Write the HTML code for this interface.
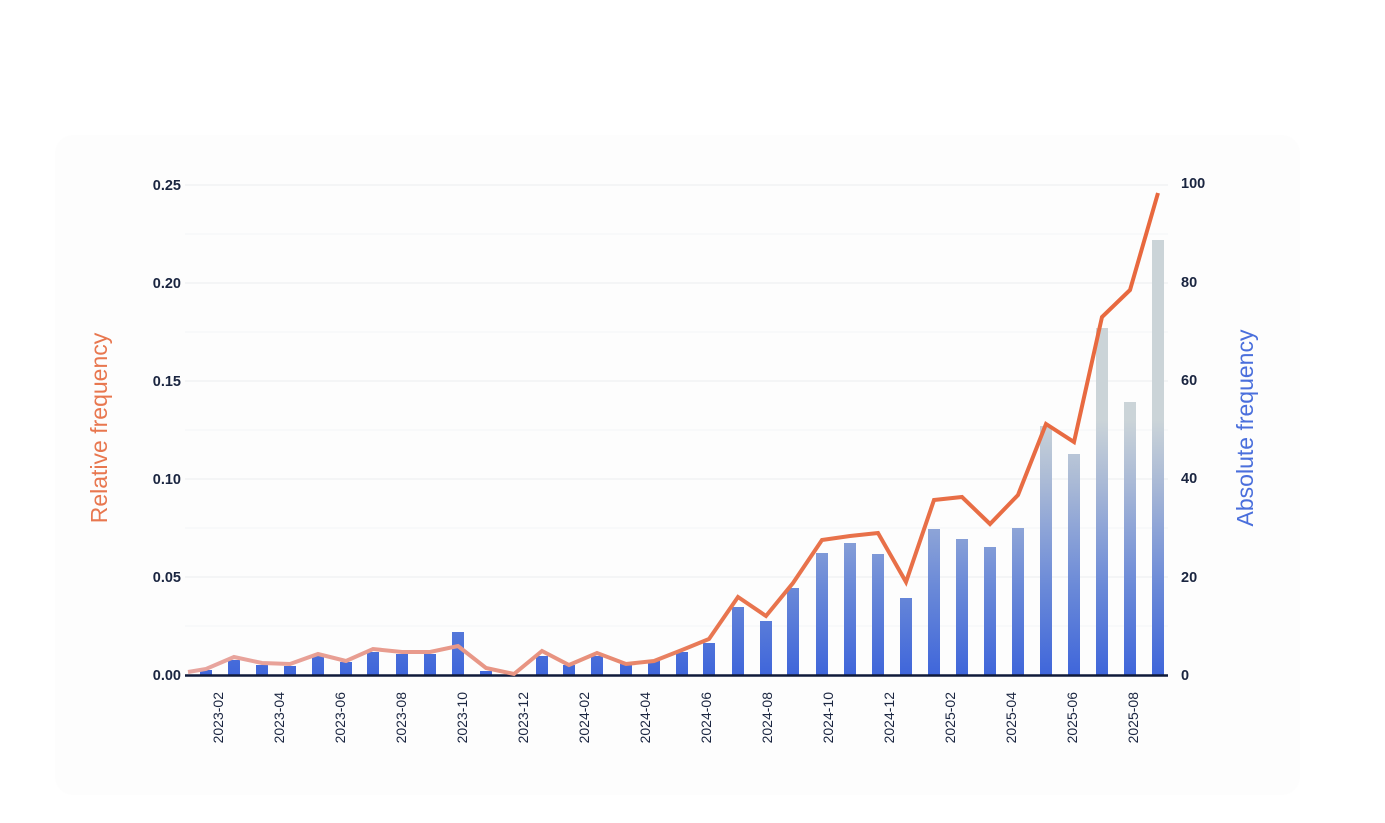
<!DOCTYPE html>
<html><head><meta charset="utf-8"><style>
body{margin:0;background:#fff;}
svg{display:block;font-family:"Liberation Sans",sans-serif;}
</style></head><body>
<svg width="1385" height="823" viewBox="0 0 1385 823" xmlns="http://www.w3.org/2000/svg">
<defs>
<linearGradient id="bg" gradientUnits="userSpaceOnUse" x1="0" y1="675" x2="0" y2="420">
<stop offset="0" stop-color="#3f66da"/><stop offset="0.35" stop-color="#6b8ad8"/><stop offset="0.75" stop-color="#a9b9d6"/><stop offset="1" stop-color="#cbd4d8"/>
</linearGradient>
<linearGradient id="lg" gradientUnits="userSpaceOnUse" x1="188" y1="0" x2="1158" y2="0">
<stop offset="0" stop-color="#e8a6a0"/><stop offset="0.4" stop-color="#e8927e"/><stop offset="0.55" stop-color="#e8754f"/><stop offset="1" stop-color="#e8683e"/>
</linearGradient>
</defs>
<rect x="55" y="135" width="1245" height="660" rx="18" fill="#fdfdfd"/>
<g stroke="#ebedf0" stroke-width="1">
<line x1="185" x2="1168" y1="185" y2="185"/><line x1="185" x2="1168" y1="234" y2="234" stroke="#f4f5f7"/>
<line x1="185" x2="1168" y1="283" y2="283"/><line x1="185" x2="1168" y1="332" y2="332" stroke="#f4f5f7"/>
<line x1="185" x2="1168" y1="381" y2="381"/><line x1="185" x2="1168" y1="430" y2="430" stroke="#f4f5f7"/>
<line x1="185" x2="1168" y1="479" y2="479"/><line x1="185" x2="1168" y1="528" y2="528" stroke="#f4f5f7"/>
<line x1="185" x2="1168" y1="577" y2="577"/><line x1="185" x2="1168" y1="626" y2="626" stroke="#f4f5f7"/>
</g>
<g fill="url(#bg)">
<rect x="200" y="670" width="12" height="5"/><rect x="228" y="660" width="12" height="15"/><rect x="256" y="665" width="12" height="10"/><rect x="284" y="666" width="12" height="9"/><rect x="312" y="656" width="12" height="19"/><rect x="340" y="662" width="12" height="13"/><rect x="367" y="652" width="12" height="23"/><rect x="396" y="654" width="12" height="21"/><rect x="424" y="654" width="12" height="21"/><rect x="452" y="632" width="12" height="43"/><rect x="480" y="671" width="12" height="4"/><rect x="536" y="656" width="12" height="19"/><rect x="563" y="665" width="12" height="10"/><rect x="591" y="656" width="12" height="19"/><rect x="620" y="663" width="12" height="12"/><rect x="648" y="660" width="12" height="15"/><rect x="676" y="652" width="12" height="23"/><rect x="703" y="643" width="12" height="32"/><rect x="732" y="607" width="12" height="68"/><rect x="760" y="621" width="12" height="54"/><rect x="787" y="588" width="12" height="87"/><rect x="816" y="553" width="12" height="122"/><rect x="844" y="543" width="12" height="132"/><rect x="872" y="554" width="12" height="121"/><rect x="900" y="598" width="12" height="77"/><rect x="928" y="529" width="12" height="146"/><rect x="956" y="539" width="12" height="136"/><rect x="984" y="547" width="12" height="128"/><rect x="1012" y="528" width="12" height="147"/><rect x="1040" y="426" width="12" height="249"/><rect x="1068" y="454" width="12" height="221"/><rect x="1096" y="328" width="12" height="347"/><rect x="1124" y="402" width="12" height="273"/><rect x="1152" y="240" width="12" height="435"/>
</g>
<line x1="185" x2="1168" y1="675.5" y2="675.5" stroke="#0f1a3a" stroke-width="2.5"/>
<polyline fill="none" stroke="url(#lg)" stroke-width="4" stroke-linejoin="miter" points="188,672 206,669 234,657 262,663 290,664 318,654 346,661 373,649 402,652 430,652 458,646 486,668 514,674 542,651 569,665 597,653 626,664 654,661 682,650 709,639 738,597 766,616 793,583 822,540 850,536 878,533 906,582 934,500 962,497 990,524 1018,495 1046,424 1074,442 1102,317 1130,290 1158,193"/>
<g font-size="14.5" fill="#1a2540" font-weight="bold" text-anchor="end">
<text x="181" y="190">0.25</text><text x="181" y="288">0.20</text><text x="181" y="386">0.15</text><text x="181" y="484">0.10</text><text x="181" y="582">0.05</text><text x="181" y="680">0.00</text>
</g>
<g font-size="14.5" fill="#1a2540" font-weight="bold">
<text x="1181" y="188">100</text><text x="1181" y="287">80</text><text x="1181" y="385">60</text><text x="1181" y="483">40</text><text x="1181" y="582">20</text><text x="1181" y="680">0</text>
</g>
<g font-size="14" fill="#1a2540" text-anchor="end">
<text transform="translate(223,692) rotate(-90)">2023-02</text>
<text transform="translate(284,692) rotate(-90)">2023-04</text>
<text transform="translate(345,692) rotate(-90)">2023-06</text>
<text transform="translate(406,692) rotate(-90)">2023-08</text>
<text transform="translate(467,692) rotate(-90)">2023-10</text>
<text transform="translate(528,692) rotate(-90)">2023-12</text>
<text transform="translate(589,692) rotate(-90)">2024-02</text>
<text transform="translate(650,692) rotate(-90)">2024-04</text>
<text transform="translate(711,692) rotate(-90)">2024-06</text>
<text transform="translate(772,692) rotate(-90)">2024-08</text>
<text transform="translate(833,692) rotate(-90)">2024-10</text>
<text transform="translate(894,692) rotate(-90)">2024-12</text>
<text transform="translate(955,692) rotate(-90)">2025-02</text>
<text transform="translate(1016,692) rotate(-90)">2025-04</text>
<text transform="translate(1077,692) rotate(-90)">2025-06</text>
<text transform="translate(1138,692) rotate(-90)">2025-08</text>
</g>
<text transform="translate(107,428) rotate(-90)" text-anchor="middle" font-size="23" fill="#e8774f">Relative frequency</text>
<text transform="translate(1253,428) rotate(-90)" text-anchor="middle" font-size="23" fill="#4a6fdc">Absolute frequency</text>
</svg>
</body></html>
